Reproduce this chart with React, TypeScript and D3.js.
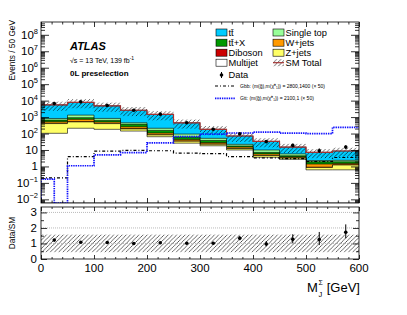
import { useEffect, useRef } from "react";
import * as d3 from "d3";

const binEdges = [0, 50, 100, 150, 200, 250, 300, 350, 400, 450, 500, 550, 600];

// stacked backgrounds, events / 50 GeV, bottom of the stack first
const multijet = [103, 209, 180, 141, 64, 26, 18, 10, 3.6, 2.7, 0.62, 0.62];
const zJets = [300, 300, 220, 50, 19, 8.5, 4.5, 2.2, 1.0, 0.55, 0.25, 0.6];
const diboson = [15, 16, 15, 6, 2, 0.5, 0.5, 0.1, 0.1, 0.05, 0.03, 0.03];
const wJets = [100, 200, 90, 60, 22, 9, 5, 2.7, 1.1, 0.5, 0.5, 0.25];
const ttbarX = [135, 190, 125, 105, 48, 18, 10, 2.5, 1.3, 0.6, 0.5, 0.4];
const singleTop = [170, 400, 200, 88, 54, 31, 13, 4.5, 2.9, 1.4, 0.4, 0.45];
const ttbar = [4680, 6480, 3970, 2150, 1240, 357, 129, 49, 23, 9.2, 4.9, 6.35];

const dataCounts = [6700, 8420, 5090, 2600, 1510, 455, 182, 95, 32, 19, 9, 15];

// relative SM uncertainty band
const bandLow = [0.44, 0.44, 0.44, 0.44, 0.44, 0.44, 0.44, 0.44, 0.44, 0.44, 0.44, 0.44];
const bandHigh = [1.57, 1.57, 1.57, 1.57, 1.57, 1.57, 1.57, 1.57, 1.57, 1.57, 1.57, 1.57];

// signals (x 50)
const gbbValues = [0.2, 3.9, 8.5, 9.5, 9, 6.5, 6, 3.9, 3.3, 3.0, 2.0, 3.5];
const gttEdges = [0, 25, 50, 100, 150, 200, 250, 300, 350, 400, 450, 500, 550, 600];
const gttValues = [0.17, 0.001, 1.1, 5, 7, 27, 65, 92, 108, 122, 105, 100, 240];

const xTickLabels = [0, 100, 200, 300, 400, 500, 600];
const yDecades = [-2, -1, 0, 1, 2, 3, 4, 5, 6, 7, 8];
const ratioTickLabels = [0, 1, 2, 3];

const stackLayers = [
	{ name: "Multijet", values: multijet, color: "#ffffff" },
	{ name: "Z+jets", values: zJets, color: "#ffff66" },
	{ name: "Diboson", values: diboson, color: "#cc0000" },
	{ name: "W+jets", values: wJets, color: "#ff9900" },
	{ name: "tt+X", values: ttbarX, color: "#009900" },
	{ name: "Single top", values: singleTop, color: "#99ff99" },
	{ name: "tt", values: ttbar, color: "#00ccff" },
];

const legendLeft = [
	{ label: "tt\u0304", color: "#00ccff" },
	{ label: "tt\u0304+X", color: "#009900" },
	{ label: "Diboson", color: "#cc0000" },
	{ label: "Multijet", color: "#ffffff" },
];
const legendRight = [
	{ label: "Single top", color: "#99ff99" },
	{ label: "W+jets", color: "#ff9900" },
	{ label: "Z+jets", color: "#ffff66" },
];

const FONT = "'Liberation Sans', Arial, Helvetica, sans-serif";
const SM_COLOR = "#a33333";
const GTT_COLOR = "#1010ff";

const poissonUp = (n: number) => Math.sqrt(n + 0.25) + 0.5;
const poissonDown = (n: number) => Math.sqrt(n + 0.25) - 0.5;

export default function App() {
	const svgRef = useRef<SVGSVGElement>(null);

	useEffect(() => {
		if (!svgRef.current) {
			return;
		}
		const svg = d3.select(svgRef.current);
		svg.selectAll("*").remove();

		const main = { left: 41, right: 359, top: 22, bottom: 203 };
		const ratio = { top: 207, bottom: 259 };

		const x = d3.scaleLinear().domain([0, 600]).range([main.left, main.right]);
		const y = d3.scaleLog().domain([6e-3, 6e8]).range([main.bottom, main.top]).clamp(true);
		const yr = d3.scaleLinear().domain([0, 3.35]).range([ratio.bottom, ratio.top]);

		const nBins = binEdges.length - 1;
		const centers = d3.range(nBins).map((i) => (binEdges[i] + binEdges[i + 1]) / 2);

		const cumulative: number[][] = [];
		stackLayers.forEach((layer, li) => {
			cumulative.push(layer.values.map((v, i) => v + (li > 0 ? cumulative[li - 1][i] : 0)));
		});
		const smTotal = cumulative[cumulative.length - 1];

		const defs = svg.append("defs");
		const hatch = defs
			.append("pattern")
			.attr("id", "hatch")
			.attr("patternUnits", "userSpaceOnUse")
			.attr("width", 4.2)
			.attr("height", 4.2);
		hatch
			.append("path")
			.attr("d", "M-1,1 l2,-2 M0,4.2 l4.2,-4.2 M3.2,5.2 l2,-2")
			.attr("stroke", "#000")
			.attr("stroke-width", 0.6);

		defs
			.append("clipPath")
			.attr("id", "main-clip")
			.append("rect")
			.attr("x", main.left)
			.attr("y", main.top)
			.attr("width", main.right - main.left)
			.attr("height", main.bottom - main.top);

		const stepPath = (edges: number[], values: number[], ys: (v: number) => number) => {
			let d = `M${x(edges[0])},${ys(values[0])}`;
			values.forEach((_, i) => {
				d += `H${x(edges[i + 1])}`;
				if (i < values.length - 1) {
					d += `V${ys(values[i + 1])}`;
				}
			});
			return d;
		};

		const plot = svg.append("g").attr("clip-path", "url(#main-clip)");

		// stack, biggest cumulative drawn first
		const layersDrawn = stackLayers.map((layer, li) => ({ ...layer, cum: cumulative[li] })).reverse();
		plot
			.selectAll("path.layer")
			.data(layersDrawn)
			.join("path")
			.attr("class", "layer")
			.attr(
				"d",
				(layer) =>
					`M${x(0)},${main.bottom}V${y(layer.cum[0])}` +
					stepPath(binEdges, layer.cum, y).replace(/^M[^H]*/, "") +
					`V${main.bottom}Z`
			)
			.attr("fill", (layer) => layer.color)
			.attr("stroke", "#000")
			.attr("stroke-width", 0.6);

		// SM uncertainty
		plot
			.selectAll("rect.band")
			.data(d3.range(nBins))
			.join("rect")
			.attr("class", "band")
			.attr("x", (i) => x(binEdges[i]))
			.attr("width", (i) => x(binEdges[i + 1]) - x(binEdges[i]))
			.attr("y", (i) => y(smTotal[i] * bandHigh[i]))
			.attr("height", (i) => y(smTotal[i] * bandLow[i]) - y(smTotal[i] * bandHigh[i]))
			.attr("fill", "url(#hatch)");

		plot
			.append("path")
			.attr("d", stepPath(binEdges, smTotal, y))
			.attr("fill", "none")
			.attr("stroke", SM_COLOR)
			.attr("stroke-width", 1.2);

		plot
			.append("path")
			.attr("d", stepPath(binEdges, gbbValues, y))
			.attr("fill", "none")
			.attr("stroke", "#000")
			.attr("stroke-width", 1.2)
			.attr("stroke-dasharray", "3,2,1,2");

		plot
			.append("path")
			.attr("d", `M${x(0)},${main.bottom}V${y(gttValues[0])}` + stepPath(gttEdges, gttValues, y).replace(/^M[^H]*/, ""))
			.attr("fill", "none")
			.attr("stroke", GTT_COLOR)
			.attr("stroke-width", 1.7)
			.attr("stroke-dasharray", "1.4,0.9");

		// data
		const dataG = svg.append("g");
		dataG
			.selectAll("line.err")
			.data(d3.range(nBins))
			.join("line")
			.attr("class", "err")
			.attr("x1", (i) => x(centers[i]))
			.attr("x2", (i) => x(centers[i]))
			.attr("y1", (i) => y(dataCounts[i] + poissonUp(dataCounts[i])))
			.attr("y2", (i) => y(dataCounts[i] - poissonDown(dataCounts[i])))
			.attr("stroke", "#000")
			.attr("stroke-width", 1);
		dataG
			.selectAll("circle")
			.data(d3.range(nBins))
			.join("circle")
			.attr("cx", (i) => x(centers[i]))
			.attr("cy", (i) => y(dataCounts[i]))
			.attr("r", 1.8)
			.attr("fill", "#000");

		// ratio panel
		const ratioG = svg.append("g");
		ratioG
			.selectAll("rect.band")
			.data(d3.range(nBins))
			.join("rect")
			.attr("class", "band")
			.attr("x", (i) => x(binEdges[i]))
			.attr("width", (i) => x(binEdges[i + 1]) - x(binEdges[i]))
			.attr("y", (i) => yr(bandHigh[i]))
			.attr("height", (i) => yr(bandLow[i]) - yr(bandHigh[i]))
			.attr("fill", "url(#hatch)");
		ratioG
			.selectAll("line.grid")
			.data([1, 2, 3])
			.join("line")
			.attr("class", "grid")
			.attr("x1", main.left)
			.attr("x2", main.right)
			.attr("y1", (v) => yr(v))
			.attr("y2", (v) => yr(v))
			.attr("stroke", "#aaa")
			.attr("stroke-width", 0.8)
			.attr("stroke-dasharray", "1,1");
		ratioG
			.selectAll("line.err")
			.data(d3.range(nBins))
			.join("line")
			.attr("class", "err")
			.attr("x1", (i) => x(centers[i]))
			.attr("x2", (i) => x(centers[i]))
			.attr("y1", (i) => yr((dataCounts[i] + poissonUp(dataCounts[i])) / smTotal[i]))
			.attr("y2", (i) => yr((dataCounts[i] - poissonDown(dataCounts[i])) / smTotal[i]))
			.attr("stroke", "#000")
			.attr("stroke-width", 1);
		ratioG
			.selectAll("circle")
			.data(d3.range(nBins))
			.join("circle")
			.attr("cx", (i) => x(centers[i]))
			.attr("cy", (i) => yr(dataCounts[i] / smTotal[i]))
			.attr("r", 1.8)
			.attr("fill", "#000");

		// frames and ticks
		const frame = (top: number, bottom: number) =>
			svg
				.append("rect")
				.attr("x", main.left)
				.attr("y", top)
				.attr("width", main.right - main.left)
				.attr("height", bottom - top)
				.attr("fill", "none")
				.attr("stroke", "#000")
				.attr("stroke-width", 0.8);
		frame(main.top, main.bottom);
		frame(ratio.top, ratio.bottom);

		const xMinor = d3.range(0, 601, 20).filter((v) => v % 100 !== 0);
		const tickGroup = (transform: string, axis: d3.Axis<any>) =>
			svg
				.append("g")
				.attr("transform", transform)
				.attr("color", "#000")
				.call(axis.tickFormat(() => ""))
				.call((g) => g.select(".domain").remove())
				.call((g) => g.selectAll("line").attr("stroke-width", 0.8));

		[
			[main.bottom, main.top, 5, 2.5],
			[ratio.bottom, ratio.top, 4, 2],
		].forEach(([bot, top, major, minor]) => {
			tickGroup(`translate(0,${bot})`, d3.axisBottom(x).tickValues(xTickLabels).tickSize(-major));
			tickGroup(`translate(0,${bot})`, d3.axisBottom(x).tickValues(xMinor).tickSize(-minor));
			tickGroup(`translate(0,${top})`, d3.axisTop(x).tickValues(xTickLabels).tickSize(-major));
			tickGroup(`translate(0,${top})`, d3.axisTop(x).tickValues(xMinor).tickSize(-minor));
		});

		const logMajor = yDecades.map((d) => Math.pow(10, d));
		const logMinor: number[] = [];
		[-3, ...yDecades].forEach((d) => {
			for (let k = 2; k <= 9; k++) {
				const v = k * Math.pow(10, d);
				if (v > 6e-3 && v < 6e8) logMinor.push(v);
			}
		});
		tickGroup(`translate(${main.left},0)`, d3.axisLeft(y).tickValues(logMajor).tickSize(-8));
		tickGroup(`translate(${main.left},0)`, d3.axisLeft(y).tickValues(logMinor).tickSize(-4));
		tickGroup(`translate(${main.right},0)`, d3.axisRight(y).tickValues(logMajor).tickSize(-8));
		tickGroup(`translate(${main.right},0)`, d3.axisRight(y).tickValues(logMinor).tickSize(-4));

		const rMinor = [0.5, 1.5, 2.5];
		tickGroup(`translate(${main.left},0)`, d3.axisLeft(yr).tickValues(ratioTickLabels).tickSize(-6));
		tickGroup(`translate(${main.left},0)`, d3.axisLeft(yr).tickValues(rMinor).tickSize(-3));
		tickGroup(`translate(${main.right},0)`, d3.axisRight(yr).tickValues(ratioTickLabels).tickSize(-6));
		tickGroup(`translate(${main.right},0)`, d3.axisRight(yr).tickValues(rMinor).tickSize(-3));

		// tick labels
		const labelSize = 11.5;
		const yLabels = svg
			.append("g")
			.attr("font-family", FONT)
			.attr("font-size", labelSize)
			.attr("text-anchor", "end");
		yDecades.forEach((d) => {
			const t = yLabels
				.append("text")
				.attr("x", main.left - 3)
				.attr("y", y(Math.pow(10, d)) + 4);
			if (d === 0) {
				t.text("1");
			} else if (d === 1) {
				t.text("10");
			} else {
				t.append("tspan").text("10");
				t.append("tspan").attr("font-size", 7.5).attr("dy", -5).text(d < 0 ? `\u2212${-d}` : `${d}`);
			}
		});

		svg
			.append("g")
			.attr("font-family", FONT)
			.attr("font-size", labelSize)
			.attr("text-anchor", "end")
			.selectAll("text")
			.data(ratioTickLabels)
			.join("text")
			.attr("x", main.left - 4)
			.attr("y", (v) => yr(v) + 4)
			.text((v) => v);

		svg
			.append("g")
			.attr("font-family", FONT)
			.attr("font-size", labelSize)
			.attr("text-anchor", "middle")
			.selectAll("text")
			.data(xTickLabels)
			.join("text")
			.attr("x", (v) => x(v))
			.attr("y", 272)
			.text((v) => v);

		// axis titles
		const titleG = svg.append("g").attr("font-family", FONT);
		titleG.append("text").attr("x", 307).attr("y", 292).attr("font-size", 13).text("M");
		titleG.append("text").attr("x", 318.5).attr("y", 285).attr("font-size", 7).text("\u03A3");
		titleG.append("text").attr("x", 318.5).attr("y", 296.5).attr("font-size", 7.5).text("J");
		titleG
			.append("text")
			.attr("x", main.right + 1)
			.attr("y", 292)
			.attr("text-anchor", "end")
			.attr("font-size", 13)
			.text("[GeV]");

		svg
			.append("text")
			.attr("transform", `translate(15,${main.top - 2}) rotate(-90)`)
			.attr("text-anchor", "end")
			.attr("font-family", FONT)
			.attr("font-size", 8.3)
			.text("Events / 50 GeV");

		svg
			.append("text")
			.attr("transform", `translate(15,${(ratio.top + ratio.bottom) / 2}) rotate(-90)`)
			.attr("text-anchor", "middle")
			.attr("font-family", FONT)
			.attr("font-size", 8.3)
			.text("Data/SM");

		// ATLAS label
		svg
			.append("text")
			.attr("x", 70)
			.attr("y", 50)
			.attr("font-family", FONT)
			.attr("font-size", 11)
			.attr("font-weight", "bold")
			.attr("font-style", "italic")
			.text("ATLAS");
		const energy = svg
			.append("text")
			.attr("x", 70)
			.attr("y", 63)
			.attr("font-family", FONT)
			.attr("font-size", 7);
		energy.append("tspan").text("\u221As = 13 TeV, 139 fb");
		energy.append("tspan").attr("font-size", 5).attr("dy", -3).text("-1");
		svg
			.append("text")
			.attr("x", 70)
			.attr("y", 76)
			.attr("font-family", FONT)
			.attr("font-size", 8)
			.attr("font-weight", "bold")
			.text("0L preselection");

		// legend
		const legend = svg.append("g").attr("font-family", FONT).attr("font-size", 9.3);
		const rowY = [32.5, 42.7, 52.7, 62.7];
		const addBox = (bx: number, cy: number, color: string, label: string) => {
			legend
				.append("rect")
				.attr("x", bx)
				.attr("y", cy - 3.5)
				.attr("width", 11)
				.attr("height", 7)
				.attr("fill", color)
				.attr("stroke", "#000")
				.attr("stroke-width", 0.6);
			legend
				.append("text")
				.attr("x", bx + 12.5)
				.attr("y", cy + 3.4)
				.text(label);
		};
		legendLeft.forEach((entry, i) => addBox(216, rowY[i], entry.color, entry.label));
		legendRight.forEach((entry, i) => addBox(273, rowY[i], entry.color, entry.label));

		// SM total entry
		legend
			.append("rect")
			.attr("x", 273)
			.attr("y", rowY[3] - 3.5)
			.attr("width", 11)
			.attr("height", 7)
			.attr("fill", "url(#hatch)");
		legend
			.append("line")
			.attr("x1", 273)
			.attr("x2", 284)
			.attr("y1", rowY[3])
			.attr("y2", rowY[3])
			.attr("stroke", SM_COLOR)
			.attr("stroke-width", 1.2);
		legend
			.append("text")
			.attr("x", 285.5)
			.attr("y", rowY[3] + 3.4)
			.text("SM Total");

		// data entry
		legend
			.append("line")
			.attr("x1", 221.5)
			.attr("x2", 221.5)
			.attr("y1", 72)
			.attr("y2", 78)
			.attr("stroke", "#000");
		legend.append("circle").attr("cx", 221.5).attr("cy", 75).attr("r", 1.8).attr("fill", "#000");
		legend.append("text").attr("x", 228.5).attr("y", 78.4).text("Data");

		const signalLegend = [
			{ yPos: 86, color: "#000", dash: "3,2,1,2", width: 1.2, text: "Gbb: (m(g\u0303),m(\u03C7\u0303\u2070\u2081)) = 2800,1400 (\u00D7 50)" },
			{ yPos: 98.3, color: GTT_COLOR, dash: "1.4,0.9", width: 1.7, text: "Gtt: (m(g\u0303),m(\u03C7\u0303\u2070\u2081)) = 2100,1 (\u00D7 50)" },
		];
		signalLegend.forEach((s) => {
			legend
				.append("line")
				.attr("x1", 215)
				.attr("x2", 235)
				.attr("y1", s.yPos)
				.attr("y2", s.yPos)
				.attr("stroke", s.color)
				.attr("stroke-width", s.width)
				.attr("stroke-dasharray", s.dash);
			legend
				.append("text")
				.attr("x", 240)
				.attr("y", s.yPos + 1.8)
				.attr("font-size", 5)
				.text(s.text);
		});
	}, []);

	return (
		<svg
			ref={svgRef}
			width={407}
			height={315}
			style={{ position: "absolute", left: 0, top: 0, background: "#fff" }}
		/>
	);
}
